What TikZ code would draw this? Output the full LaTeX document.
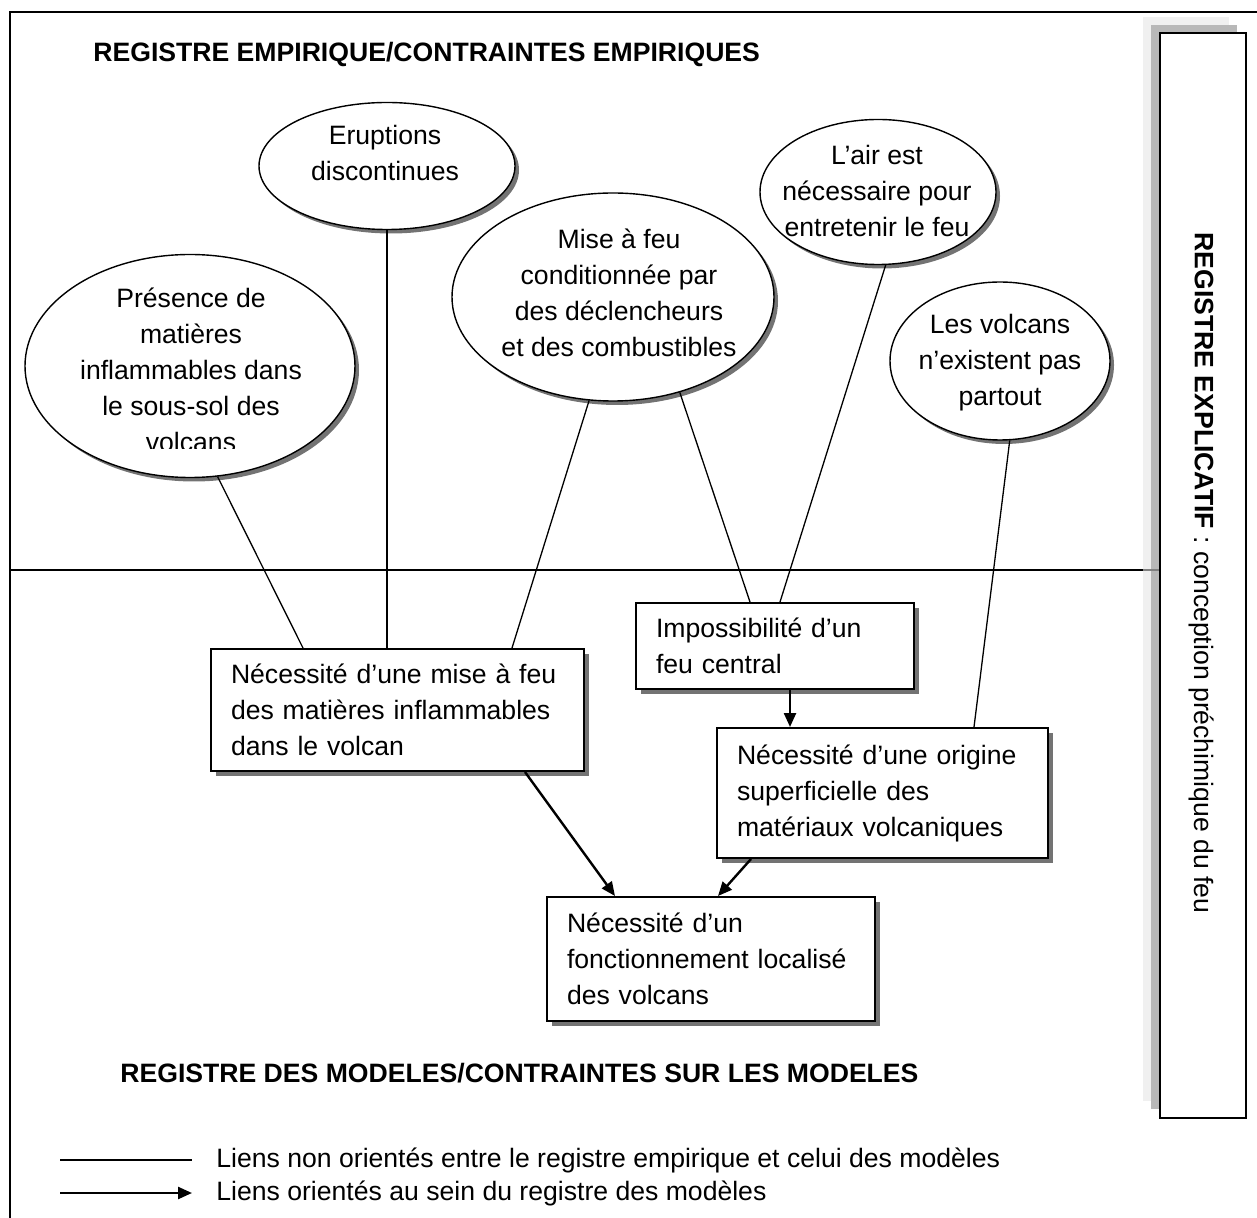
\documentclass[tikz,border=0pt]{standalone}
\usepackage{fontspec}
\setmainfont{Liberation Sans}
\usetikzlibrary{shapes.geometric,shadows,calc,arrows.meta}
\begin{document}
\begin{tikzpicture}[x=0.5pt,y=-0.5pt,
  font=\fontsize{13.3}{18}\selectfont,
  oval/.style={ellipse, draw, line width=0.7pt, fill=white, inner sep=0pt,
    drop shadow={shadow xshift=2pt, shadow yshift=-2pt, fill=black!55, opacity=1}},
  otext/.style={align=center, inner sep=0pt},
  mbox/.style={rectangle, draw, line width=1pt, fill=white, inner xsep=10pt, inner ysep=0pt, align=left, anchor=north west,
    drop shadow={shadow xshift=2.5pt, shadow yshift=-2.5pt, fill=black!55, opacity=1}},
  link/.style={line width=0.65pt},
  arr/.style={line width=1.2pt, -{Triangle[length=7pt,width=6pt]}},
  frame/.style={line width=1.2pt},
  title/.style={font=\fontsize{13.3}{18}\selectfont\bfseries, anchor=base west, inner sep=0pt}
]
\useasboundingbox (0,0) rectangle (1257,1218);
% frame
\draw[frame] (10,1218) -- (10,12) -- (1257,12);
\coordinate (hl) at (10,570); \coordinate (hr) at (1143,570);
\draw[frame] (hl) -- (hr);
% right box with shadows
\fill[black!6] (1143,17) rectangle (1229,1101);
\fill[black!28] (1151,25) rectangle (1237,1109);
\node[draw, line width=1.2pt, fill=white, minimum width=43pt, minimum height=542.5pt, inner sep=0pt, anchor=north west] (rb) at (1159,32) {};
\draw[line width=1.2pt, black!50] (hr) -- (hr -| rb.west);
\node[rotate=-90, inner sep=0pt] (rbt) at (1202,573) {\textbf{REGISTRE EXPLICATIF} : conception préchimique du feu};
% titles
\node[title] (t1) at (93,62) {REGISTRE EMPIRIQUE/CONTRAINTES EMPIRIQUES};
\node[title] (t2) at (120,1082) {REGISTRE DES MODELES/CONTRAINTES SUR LES MODELES};
% ellipses
\node[oval, minimum width=165pt, minimum height=111.5pt] (e1) at (190,366) {};
\begin{scope}
\clip (20,250) rectangle (370,449);
\node[otext] (e1t) at (191,370) {Présence de\\matières\\inflammables dans\\le sous-sol des\\volcans};
\end{scope}
\node[oval, minimum width=128pt, minimum height=63.5pt] (e2) at (387,166) {};
\node[otext] (e2t) at (385,153) {Eruptions\\discontinues};
\node[oval, minimum width=161pt, minimum height=104pt] (e3) at (613,297) {};
\node[otext] (e3t) at (619,293) {Mise à feu\\conditionnée par\\des déclencheurs\\et des combustibles};
\node[oval, minimum width=118pt, minimum height=72.5pt] (e4) at (878,192) {};
\node[otext] (e4t) at (877,191) {L’air est\\nécessaire pour\\entretenir le feu};
\node[oval, minimum width=110pt, minimum height=79pt] (e5) at (1000,361) {};
\node[otext] (e5t) at (1000,363) {Les volcans\\n’existent pas\\partout};
% boxes
\node[mbox, minimum width=186.5pt, minimum height=61pt, text width=166.5pt] (A) at (210,648) {Nécessité d’une mise à feu\\des matières inflammables\\dans le volcan};
\node[mbox, minimum width=139pt, minimum height=43pt, text width=119pt] (B) at (635,602) {Impossibilité d’un\\feu central};
\node[mbox, minimum width=165.5pt, minimum height=65pt, text width=145.5pt] (C) at (716,727) {Nécessité d’une origine\\superficielle des\\matériaux volcaniques};
\node[mbox, minimum width=164pt, minimum height=62pt, text width=144pt] (D) at (546,896) {Nécessité d’un\\fonctionnement localisé\\des volcans};
% undirected links
\draw[link] (e1.-76) -- ($(A.north west)+(93,0)$);
\draw[link] (e2.south) -- (e2.south |- A.north);
\draw[link] (e3.-103) -- ($(A.north west)+(302,0)$);
\draw[link] (e3.-55) -- ($(B.north west)+(115,0)$);
\draw[link] (e4.-84) -- ($(B.north west)+(145,0)$);
\draw[link] (e5.-83) -- ($(C.north west)+(258,0)$);
% directed links
\draw[arr] ($(B.south west)+(155,0)$) -- ($(C.north west)+(74,0)$);
\draw[arr] ($(A.south west)+(315,0)$) -- ($(D.north west)+(69,0)$);
\draw[arr] ($(C.south west)+(35,0)$) -- ($(D.north west)+(172,0)$);
% legend
\coordinate (l1a) at (60,1160); \coordinate (l1b) at (192,1160);
\coordinate (l2a) at (60,1193); \coordinate (l2b) at (192,1193);
\draw[link] (l1a) -- (l1b);
\draw[arr] (l2a) -- (l2b);
\node[anchor=west, inner sep=0pt] (lg1) at (216,1160) {Liens non orientés entre le registre empirique et celui des modèles};
\node[anchor=west, inner sep=0pt] (lg2) at (216,1193) {Liens orientés au sein du registre des modèles};
\end{tikzpicture}
\end{document}
